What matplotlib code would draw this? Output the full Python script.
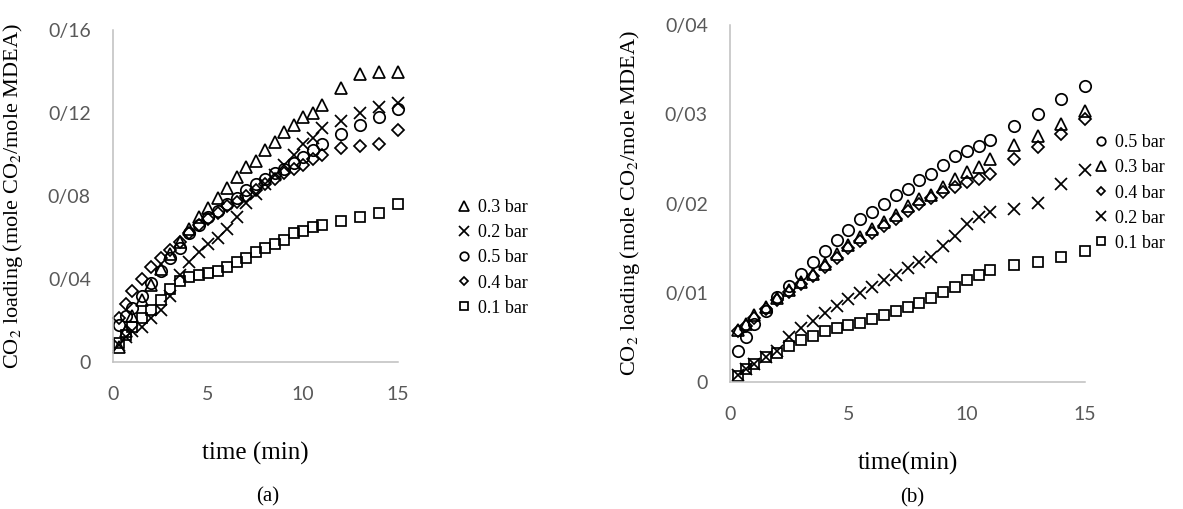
import matplotlib
matplotlib.use("Agg")
import matplotlib.pyplot as plt

# time points (min), same for every series
t = [0.33, 0.67, 1, 1.5, 2, 2.5, 3, 3.5, 4, 4.5, 5, 5.5, 6, 6.5, 7, 7.5,
     8, 8.5, 9, 9.5, 10, 10.5, 11, 12, 13, 14, 15]

# (a) CO2 loading, mole CO2 / mole MDEA
a_03 = [0.007, 0.015, 0.022, 0.030, 0.037, 0.045, 0.052, 0.058, 0.064, 0.070,
        0.074, 0.079, 0.084, 0.089, 0.094, 0.097, 0.102, 0.106, 0.111, 0.114,
        0.118, 0.120, 0.124, 0.132, 0.139, 0.140, 0.140]
a_02 = [0.008, 0.012, 0.015, 0.017, 0.021, 0.025, 0.032, 0.042, 0.048, 0.053,
        0.057, 0.060, 0.064, 0.070, 0.0765, 0.081, 0.086, 0.090, 0.095, 0.100,
        0.105, 0.108, 0.113, 0.116, 0.120, 0.123, 0.125]
a_05 = [0.018, 0.022, 0.026, 0.032, 0.038, 0.044, 0.050, 0.055, 0.062, 0.066,
        0.070, 0.073, 0.076, 0.079, 0.083, 0.086, 0.088, 0.091, 0.093, 0.096,
        0.099, 0.102, 0.105, 0.110, 0.114, 0.118, 0.122]
a_04 = [0.021, 0.028, 0.034, 0.040, 0.046, 0.050, 0.054, 0.058, 0.062, 0.066,
        0.069, 0.072, 0.075, 0.077, 0.080, 0.083, 0.086, 0.088, 0.091, 0.093,
        0.095, 0.098, 0.100, 0.103, 0.104, 0.105, 0.112]
a_01 = [0.009, 0.013, 0.017, 0.021, 0.025, 0.030, 0.035, 0.039, 0.041, 0.042,
        0.043, 0.044, 0.046, 0.048, 0.050, 0.053, 0.055, 0.057, 0.059, 0.062,
        0.063, 0.065, 0.066, 0.068, 0.070, 0.072, 0.076]

# (b)
b_05 = [0.0035, 0.0050, 0.0065, 0.0079, 0.0095, 0.0108, 0.0121, 0.0134, 0.0147,
        0.0159, 0.0170, 0.0183, 0.0190, 0.0200, 0.0209, 0.0216, 0.0226, 0.0233,
        0.0243, 0.0253, 0.0259, 0.0264, 0.0271, 0.0287, 0.0300, 0.0317, 0.0332]
b_03 = [0.0058, 0.0065, 0.0075, 0.0084, 0.0094, 0.0103, 0.0112, 0.0121, 0.0132,
        0.0143, 0.0154, 0.0162, 0.0171, 0.0179, 0.0187, 0.0197, 0.0205, 0.0210,
        0.0218, 0.0228, 0.0235, 0.0241, 0.0250, 0.0265, 0.0276, 0.0289, 0.0304]
b_04 = [0.0057, 0.0063, 0.0072, 0.0082, 0.0092, 0.0101, 0.0110, 0.0119, 0.0129,
        0.0139, 0.0150, 0.0158, 0.0167, 0.0175, 0.0183, 0.0192, 0.0200, 0.0206,
        0.0213, 0.0218, 0.0224, 0.0228, 0.0233, 0.0250, 0.0263, 0.0278, 0.0295]
b_02 = [0.0008, 0.0015, 0.0020, 0.0028, 0.0035, 0.0050, 0.0060, 0.0068, 0.0077,
        0.0085, 0.0093, 0.0100, 0.0107, 0.0114, 0.0120, 0.0128, 0.0135, 0.0140,
        0.0152, 0.0164, 0.0177, 0.0185, 0.0190, 0.0194, 0.0201, 0.0222, 0.0237]
b_01 = [0.0007, 0.0015, 0.0020, 0.0028, 0.0033, 0.0040, 0.0047, 0.0052, 0.0057,
        0.0060, 0.0064, 0.0066, 0.0071, 0.0075, 0.0079, 0.0084, 0.0089, 0.0094,
        0.0101, 0.0107, 0.0114, 0.0120, 0.0125, 0.0131, 0.0135, 0.0140, 0.0147]

x_ticks = [0, 5, 10, 15]
a_yticks = [0, 0.04, 0.08, 0.12, 0.16]
a_ylabels = ["0", "0/04", "0/08", "0/12", "0/16"]
b_yticks = [0, 0.01, 0.02, 0.03, 0.04]
b_ylabels = ["0", "0/01", "0/02", "0/03", "0/04"]

plt.rcParams["mathtext.fontset"] = "stix"
serif = "Liberation Serif"
tickfont = "Lato"
grey = "#595959"
axis_grey = "#bfbfbf"

W, H = 1183, 509
fig = plt.figure(figsize=(W / 100, H / 100), dpi=100)


def px_axes(x0, x1, y_top, y_bot):
    return fig.add_axes([x0 / W, 1 - y_bot / H, (x1 - x0) / W, (y_bot - y_top) / H])


ax_a = px_axes(113, 398, 30, 362)
ax_b = px_axes(730, 1085, 25, 382)

style = {
    "^": dict(marker="^", ms=8.8),
    "x": dict(marker="x", ms=8.8),
    "o": dict(marker="o", ms=8.2),
    "D": dict(marker="D", ms=5.8),
    "s": dict(marker="s", ms=7.4),
}


def scatter(ax, y, m, label):
    ax.plot(t, y, linestyle="none", mfc="none", mec="black", mew=1.25,
            color="black", label=label, clip_on=False, **style[m])


scatter(ax_a, a_03, "^", "0.3 bar")
scatter(ax_a, a_02, "x", "0.2 bar")
scatter(ax_a, a_05, "o", "0.5 bar")
scatter(ax_a, a_04, "D", "0.4 bar")
scatter(ax_a, a_01, "s", "0.1 bar")

scatter(ax_b, b_05, "o", "0.5 bar")
scatter(ax_b, b_03, "^", "0.3 bar")
scatter(ax_b, b_04, "D", "0.4 bar")
scatter(ax_b, b_02, "x", "0.2 bar")
scatter(ax_b, b_01, "s", "0.1 bar")

for ax, yt, yl in [(ax_a, a_yticks, a_ylabels), (ax_b, b_yticks, b_ylabels)]:
    ax.set_xlim(0, 15)
    ax.set_ylim(yt[0], yt[-1])
    ax.set_xticks(x_ticks)
    ax.set_yticks(yt)
    ax.set_yticklabels(yl)
    for s in ["top", "right"]:
        ax.spines[s].set_visible(False)
    for s in ["left", "bottom"]:
        ax.spines[s].set_color(axis_grey)
        ax.spines[s].set_linewidth(1.1)
    ax.tick_params(length=0, labelsize=14, labelcolor=grey)
    ax.tick_params(axis="x", pad=17)
    ax.tick_params(axis="y", pad=16)
    for lab in ax.get_xticklabels() + ax.get_yticklabels():
        lab.set_fontfamily(tickfont)
    ax.set_ylabel("CO$_2$ loading (mole CO$_2$/mole MDEA)", fontsize=16,
                  fontfamily=serif)

ax_a.yaxis.set_label_coords(-88 / 285, 0.5)
ax_b.yaxis.set_label_coords(-88 / 355, 0.5)

ax_a.set_xlabel("time (min)", fontsize=18, fontfamily=serif)
ax_a.xaxis.set_label_coords(0.5, -80 / 332)
ax_b.set_xlabel("time(min)", fontsize=18, fontfamily=serif)
ax_b.xaxis.set_label_coords(0.5, -70 / 357)

fig.text(268 / W, 1 - 497 / H, "(a)", fontsize=15, fontfamily=serif,
         ha="center", va="center")
fig.text(912 / W, 1 - 498 / H, "(b)", fontsize=15, fontfamily=serif,
         ha="center", va="center")

leg_kw = dict(frameon=False, handlelength=0.8, handletextpad=0.35,
              labelspacing=0.45, borderaxespad=0, markerscale=0.75,
              prop={"family": serif, "size": 13}, loc="center left")
ax_a.legend(bbox_to_anchor=(450 / W, 1 - 258 / H),
            bbox_transform=fig.transFigure, **leg_kw)
ax_b.legend(bbox_to_anchor=(1087 / W, 1 - 193 / H),
            bbox_transform=fig.transFigure, **leg_kw)

fig.savefig("out.png", dpi=100)
